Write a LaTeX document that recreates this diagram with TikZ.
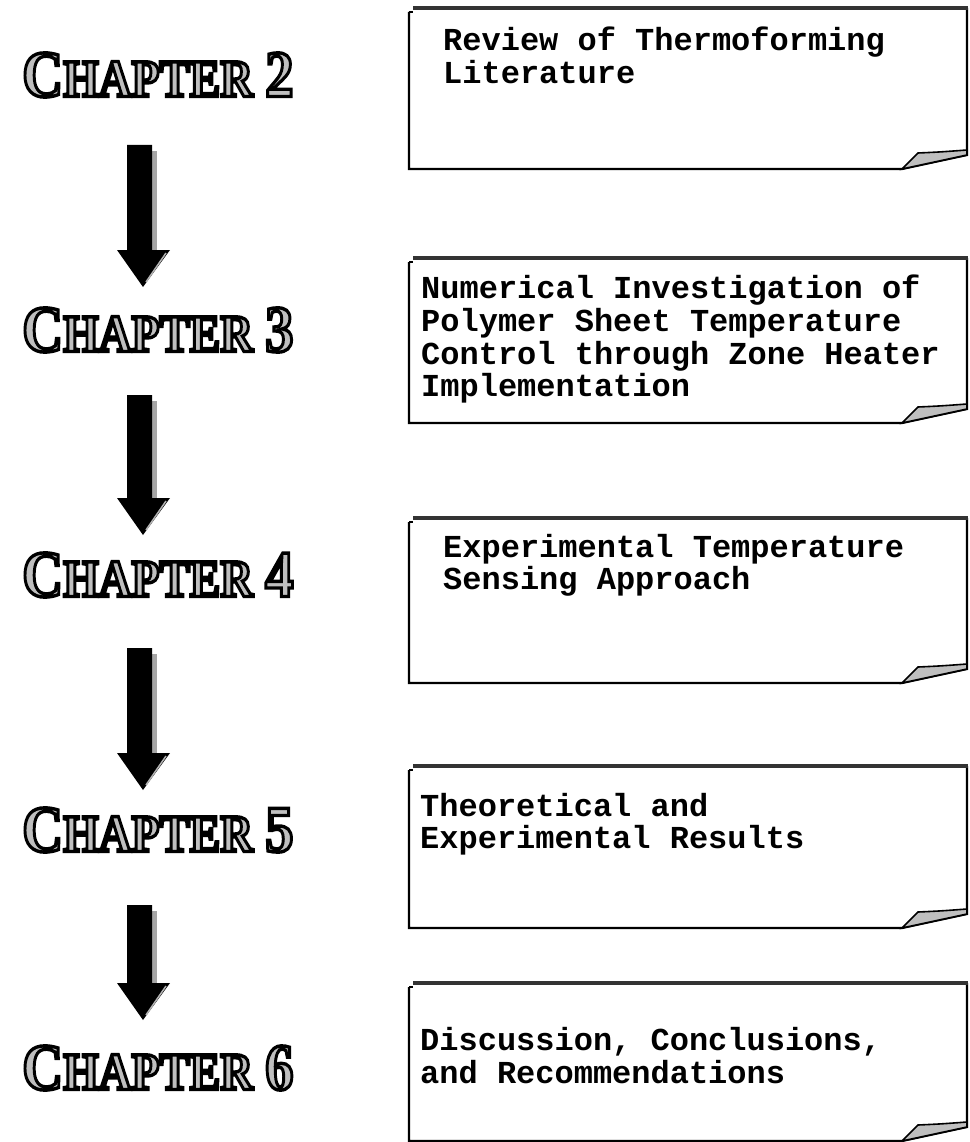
\documentclass[tikz,border=0pt]{standalone}
\usepackage{graphicx}
\usepackage{fontspec}
\setmainfont{Liberation Serif}
\newfontfamily\monofnt{Liberation Mono}
\newcommand{\chaptxt}[1]{\scalebox{0.86}[1]{\bfseries{\fontsize{66}{66}\selectfont C}{\fontsize{53}{53}\selectfont HAPTER}\hspace{14pt}{\fontsize{66}{66}\selectfont #1}}}
\newcommand{\outlinetxt}[1]{{\color{black!25}\special{pdf:literal direct 2 Tr 3.4 w 0 G}#1\special{pdf:literal direct 0 Tr}}}
\begin{document}
\begin{tikzpicture}[x=1pt,y=-1pt,
  boxline/.style={draw=black,line width=2.2pt,line join=miter},
  topband/.style={draw=black!80,line width=4pt},
  flap/.style={draw=black,line width=1.6pt,fill=black!25},
  boxtext/.style={anchor=north west,inner sep=0pt,align=left,font=\monofnt\bfseries\fontsize{32}{32.6}\selectfont},
  chapface/.style={anchor=west,inner sep=0pt},
  arrowbody/.style={fill=black},
  arrowshine/.style={fill=black!35}]
\useasboundingbox (0,0) rectangle (969,1142);
\fill[white] (0,0) rectangle (969,1142);

% ---------- paper boxes ----------
\newcommand{\paperbox}[2]{%
  \draw[boxline] (409,#1+4) -- (409,#2) -- (902,#2) -- (967,#2-14) -- (967,#1);
  \draw[topband] (413,#1) -- (968,#1);
  \draw[boxline] (409,#1+4) -- (413,#1+4);
  \filldraw[flap] (902,#2) -- (918,#2-16) .. controls (940,#2-17) .. (967,#2-19) -- (967,#2-14) -- cycle;
}
\paperbox{8}{169}
\paperbox{258}{423}
\paperbox{518}{683}
\paperbox{766}{928}
\paperbox{983}{1141}

\node[boxtext] (t2) at (443,27) {Review of Thermoforming\\Literature};
\node[boxtext] (t3) at (421,275) {Numerical Investigation of\\Polymer Sheet Temperature\\Control through Zone Heater\\Implementation};
\node[boxtext] (t4) at (443,534) {Experimental Temperature\\Sensing Approach};
\node[boxtext] (t5) at (420,793) {Theoretical and\\Experimental Results};
\node[boxtext] (t6) at (420,1027) {Discussion, Conclusions,\\and Recommendations};

% ---------- chapter labels ----------
\node[chapface] (ch2) at (22,75) {\outlinetxt{\chaptxt{2}}};
\node[chapface] (ch3) at (22,330) {\outlinetxt{\chaptxt{3}}};
\node[chapface] (ch4) at (22,575) {\outlinetxt{\chaptxt{4}}};
\node[chapface] (ch5) at (22,830) {\outlinetxt{\chaptxt{5}}};
\node[chapface] (ch6) at (22,1068) {\outlinetxt{\chaptxt{6}}};

% ---------- arrows ----------
\newcommand{\bigarrow}[2]{%
  \path[arrowshine] (151,#1+6) rectangle (157,#2-37);
  \path[arrowbody] (127,#1) -- (152,#1) -- (152,#2-37) -- (170,#2-37) -- (143,#2) -- (117,#2-37) -- (127,#2-37) -- cycle;
  \draw[black!30,line width=1.5pt] (166,#2-34) -- (146,#2-5);
}
\bigarrow{145}{287}
\bigarrow{395}{535}
\bigarrow{648}{790}
\bigarrow{905}{1020}
\end{tikzpicture}
\end{document}
